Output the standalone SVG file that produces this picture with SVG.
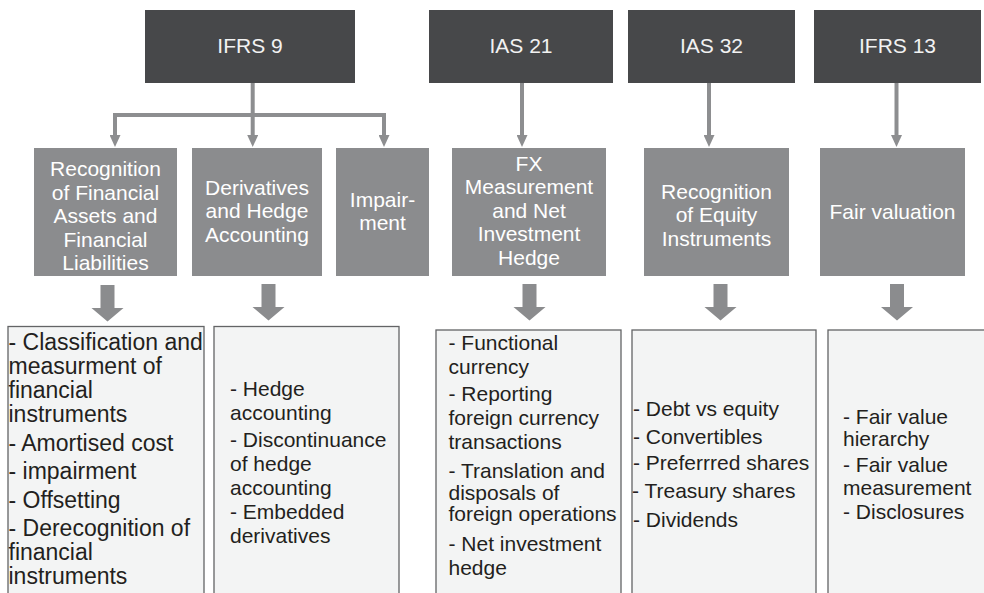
<svg xmlns="http://www.w3.org/2000/svg" width="984" height="593" viewBox="0 0 984 593">
<style>
.std{fill:#47484a}
.topic{fill:#8b8c8e}
.det{fill:#f3f4f4;stroke:#636466;stroke-width:1.3}
.tt{font-family:"Liberation Sans",Arial,sans-serif;font-size:21px;fill:#f2f2f2;text-anchor:middle}
.mt{font-family:"Liberation Sans",Arial,sans-serif;font-size:21px;fill:#ffffff;text-anchor:middle}
.bt{font-family:"Liberation Sans",Arial,sans-serif;font-size:21px;fill:#231f20}
.ln{stroke:#8d8e90;stroke-width:4;fill:none}
.blk{fill:#8b8c8e}
</style>
<defs>
<marker id="ah" markerUnits="userSpaceOnUse" markerWidth="12" markerHeight="11" refX="5" refY="5.5" orient="auto">
<path d="M0,0 L12,5.5 L0,11 z" fill="#8d8e90"/>
</marker>
</defs>
<rect width="984" height="593" fill="#ffffff"/>

<g id="connectors">
<line class="ln" x1="252.7" y1="83" x2="252.7" y2="140" marker-end="url(#ah)"/>
<polyline class="ln" points="115,140 115,115 384,115 384,140" marker-end="url(#ah)"/>
<line class="ln" x1="115" y1="117" x2="115" y2="140" marker-end="url(#ah)"/>
<line class="ln" x1="522" y1="83" x2="522" y2="140" marker-end="url(#ah)"/>
<line class="ln" x1="709" y1="83" x2="709" y2="140" marker-end="url(#ah)"/>
<line class="ln" x1="896.5" y1="83" x2="896.5" y2="140" marker-end="url(#ah)"/>
<polygon class="blk" points="100.5,285 114.5,285 114.5,308 123.5,308 107.5,321.5 91.5,308 100.5,308"/>
<polygon class="blk" points="261.5,284 275.5,284 275.5,307 284.5,307 268.5,320.5 252.5,307 261.5,307"/>
<polygon class="blk" points="522.5,284 536.5,284 536.5,307 545.5,307 529.5,320.5 513.5,307 522.5,307"/>
<polygon class="blk" points="713.5,284 727.5,284 727.5,307 736.5,307 720.5,320.5 704.5,307 713.5,307"/>
<polygon class="blk" points="890,284 904,284 904,307 913,307 897,320.5 881,307 890,307"/>
</g>

<g id="ifrs9">
<rect class="std" x="145" y="10" width="210" height="73"/>
<text class="tt" x="250" y="53">IFRS 9</text>
</g>
<g id="ias21">
<rect class="std" x="429" y="10" width="184" height="73"/>
<text class="tt" x="521" y="53">IAS 21</text>
</g>
<g id="ias32">
<rect class="std" x="628" y="10" width="167" height="73"/>
<text class="tt" x="711.5" y="53">IAS 32</text>
</g>
<g id="ifrs13">
<rect class="std" x="814" y="10" width="167" height="73"/>
<text class="tt" x="897.5" y="53">IFRS 13</text>
</g>

<g id="recognition-fa">
<rect class="topic" x="34" y="148" width="143" height="128"/>
<text class="mt"><tspan x="105.5" y="176">Recognition</tspan><tspan x="105.5" y="199.5">of Financial</tspan><tspan x="105.5" y="223">Assets and</tspan><tspan x="105.5" y="246.5">Financial</tspan><tspan x="105.5" y="270">Liabilities</tspan></text>
</g>
<g id="derivatives">
<rect class="topic" x="192" y="148" width="130" height="128"/>
<text class="mt"><tspan x="257" y="194.5">Derivatives</tspan><tspan x="257" y="218">and Hedge</tspan><tspan x="257" y="241.5">Accounting</tspan></text>
</g>
<g id="impairment">
<rect class="topic" x="336" y="148" width="93" height="128"/>
<text class="mt"><tspan x="382.5" y="206.5">Impair-</tspan><tspan x="382.5" y="230">ment</tspan></text>
</g>
<g id="fx">
<rect class="topic" x="452" y="148" width="154" height="128"/>
<text class="mt"><tspan x="529" y="170.5">FX</tspan><tspan x="529" y="194">Measurement</tspan><tspan x="529" y="217.5">and Net</tspan><tspan x="529" y="241">Investment</tspan><tspan x="529" y="265">Hedge</tspan></text>
</g>
<g id="equity">
<rect class="topic" x="644" y="148" width="145" height="128"/>
<text class="mt"><tspan x="716.5" y="198.5">Recognition</tspan><tspan x="716.5" y="222">of Equity</tspan><tspan x="716.5" y="245.5">Instruments</tspan></text>
</g>
<g id="fairvaluation">
<rect class="topic" x="820" y="148" width="145" height="128"/>
<text class="mt" x="892.5" y="219">Fair valuation</text>
</g>

<g id="details-ifrs9-recognition">
<rect class="det" x="8" y="326.5" width="196" height="280"/>
<text class="bt" style="font-size:23px"><tspan x="8.5" y="350">- Classification and</tspan><tspan x="8.5" y="374">measurment of</tspan><tspan x="8.5" y="398">financial</tspan><tspan x="8.5" y="422">instruments</tspan><tspan x="8.5" y="450.5">- Amortised cost</tspan><tspan x="8.5" y="479">- impairment</tspan><tspan x="8.5" y="507.5">- Offsetting</tspan><tspan x="8.5" y="536">- Derecognition of</tspan><tspan x="8.5" y="560">financial</tspan><tspan x="8.5" y="584">instruments</tspan></text>
</g>
<g id="details-ifrs9-hedge">
<rect class="det" x="214" y="326.5" width="185" height="280"/>
<text class="bt"><tspan x="230" y="396">- Hedge</tspan><tspan x="230" y="420">accounting</tspan><tspan x="230" y="447">- Discontinuance</tspan><tspan x="230" y="471">of hedge</tspan><tspan x="230" y="495">accounting</tspan><tspan x="230" y="519">- Embedded</tspan><tspan x="230" y="543">derivatives</tspan></text>
</g>
<g id="details-ias21">
<rect class="det" x="436" y="330" width="185" height="280"/>
<text class="bt"><tspan x="448.5" y="350">- Functional</tspan><tspan x="448.5" y="374">currency</tspan><tspan x="448.5" y="401">- Reporting</tspan><tspan x="448.5" y="425">foreign currency</tspan><tspan x="448.5" y="449">transactions</tspan><tspan x="448.5" y="478">- Translation and</tspan><tspan x="448.5" y="500">disposals of</tspan><tspan x="448.5" y="521">foreign operations</tspan><tspan x="448.5" y="551">- Net investment</tspan><tspan x="448.5" y="575">hedge</tspan></text>
</g>
<g id="details-ias32">
<rect class="det" x="632" y="330" width="184" height="280"/>
<text class="bt"><tspan x="633" y="416">- Debt vs equity</tspan><tspan x="633" y="444">- Convertibles</tspan><tspan x="633" y="470">- Preferrred shares</tspan><tspan x="632" y="498">- Treasury shares</tspan><tspan x="633" y="527">- Dividends</tspan></text>
</g>
<g id="details-ifrs13">
<rect class="det" x="828" y="330" width="170" height="280"/>
<text class="bt"><tspan x="843" y="424">- Fair value</tspan><tspan x="843" y="446">hierarchy</tspan><tspan x="843" y="472">- Fair value</tspan><tspan x="843" y="495">measurement</tspan><tspan x="843" y="519">- Disclosures</tspan></text>
</g>
</svg>
